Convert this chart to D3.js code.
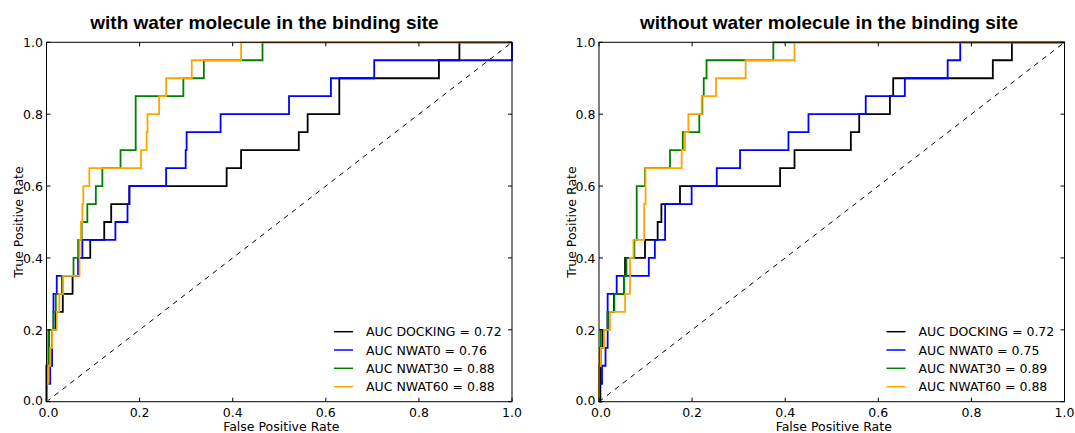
<!DOCTYPE html>
<html><head><meta charset="utf-8">
<script src="https://cdn.jsdelivr.net/npm/d3@7"></script>
<style>body{margin:0;background:#fff;} svg{display:block}</style>
</head><body><svg id="c" width="1075" height="433"></svg>
<script>
// ---------- data ----------
const seriesNames = ["DOCKING", "NWAT0", "NWAT30", "NWAT60"];
const panelTitles = ["with water molecule in the binding site", "without water molecule in the binding site"];
const aucWith = [0.72, 0.76, 0.88, 0.88];
const aucWithout = [0.72, 0.75, 0.89, 0.88];
const tickValues = [0, 0.2, 0.4, 0.6, 0.8, 1.0];
const tickLabels = ["0.0", "0.2", "0.4", "0.6", "0.8", "1.0"];

// with water: ROC threshold points (fpr, tpr)
const withDockingFpr = [0, 0, 0.005, 0.02, 0.035, 0.056, 0.069, 0.094, 0.124, 0.139, 0.178, 0.387, 0.418, 0.542, 0.561, 0.629, 0.843, 0.887, 1];
const withDockingTpr = [0, 0.1, 0.2, 0.25, 0.3, 0.35, 0.4, 0.45, 0.5, 0.55, 0.6, 0.65, 0.7, 0.75, 0.8, 0.9, 0.95, 1.0, 1.0];
const withNwat0Fpr = [0, 0, 0.008, 0.012, 0.015, 0.022, 0.068, 0.077, 0.148, 0.174, 0.178, 0.257, 0.299, 0.301, 0.374, 0.521, 0.611, 0.704, 1];
const withNwat0Tpr = [0, 0.05, 0.1, 0.2, 0.3, 0.35, 0.4, 0.45, 0.5, 0.55, 0.6, 0.65, 0.7, 0.75, 0.8, 0.85, 0.9, 0.95, 1.0];
const withNwat30Fpr = [0, 0, 0.004, 0.015, 0.02, 0.033, 0.058, 0.068, 0.0756, 0.0877, 0.106, 0.12, 0.159, 0.1916, 0.294, 0.338, 0.464, 1];
const withNwat30Tpr = [0, 0.1, 0.2, 0.25, 0.3, 0.35, 0.4, 0.45, 0.5, 0.55, 0.6, 0.65, 0.7, 0.85, 0.9, 0.95, 1.0, 1.0];
const withNwat60Fpr = [0, 0, 0.004, 0.008, 0.012, 0.022, 0.0276, 0.036, 0.071, 0.074, 0.077, 0.079, 0.092, 0.203, 0.215, 0.217, 0.242, 0.257, 0.312, 0.418, 1];
const withNwat60Tpr = [0, 0.05, 0.1, 0.15, 0.2, 0.25, 0.3, 0.35, 0.45, 0.5, 0.55, 0.6, 0.65, 0.7, 0.75, 0.8, 0.85, 0.9, 0.95, 1.0, 1.0];

// without water
const woDockingFpr = [0, 0.003, 0.008, 0.0186, 0.032, 0.054, 0.056, 0.0988, 0.126, 0.134, 0.174, 0.389, 0.42, 0.541, 0.559, 0.625, 0.632, 0.846, 0.887, 1];
const woDockingTpr = [0, 0.15, 0.2, 0.25, 0.3, 0.35, 0.4, 0.45, 0.5, 0.55, 0.6, 0.65, 0.7, 0.75, 0.8, 0.85, 0.9, 0.95, 1.0, 1.0];
const woNwat0Fpr = [0, 0, 0.0065, 0.014, 0.0186, 0.038, 0.107, 0.12, 0.142, 0.199, 0.253, 0.303, 0.407, 0.45, 0.573, 0.657, 0.749, 0.776, 1];
const woNwat0Tpr = [0, 0.05, 0.1, 0.15, 0.3, 0.35, 0.4, 0.45, 0.55, 0.6, 0.65, 0.7, 0.75, 0.8, 0.85, 0.9, 0.95, 1.0, 1.0];
const woNwat30Fpr = [0, 0, 0.004, 0.0186, 0.033, 0.054, 0.059, 0.076, 0.081, 0.099, 0.1525, 0.18, 0.2155, 0.222, 0.225, 0.231, 0.3745, 1];
const woNwat30Tpr = [0, 0.1, 0.2, 0.25, 0.3, 0.35, 0.4, 0.45, 0.6, 0.65, 0.7, 0.75, 0.8, 0.85, 0.9, 0.95, 1.0, 1.0];
const woNwat60Fpr = [0, 0, 0.004, 0.011, 0.0236, 0.056, 0.0666, 0.074, 0.097, 0.1, 0.1776, 0.1847, 0.192, 0.2206, 0.2513, 0.315, 0.42, 1];
const woNwat60Tpr = [0, 0.1, 0.15, 0.2, 0.25, 0.3, 0.4, 0.45, 0.55, 0.65, 0.7, 0.75, 0.8, 0.85, 0.9, 0.95, 1.0, 1.0];

// ---------- layout / style ----------
const colors = ["#000000", "#0000ff", "#008000", "#ffa500"];
const plotTop = 42.3, plotBottom = 401.7, plotW = 465.5;
const panelLeft = [46.5, 599];
const titleX = [264.5, 829];
const font = "'DejaVu Sans', sans-serif";

const panels = [
  { title: panelTitles[0], auc: aucWith, series: [[withDockingFpr, withDockingTpr], [withNwat0Fpr, withNwat0Tpr], [withNwat30Fpr, withNwat30Tpr], [withNwat60Fpr, withNwat60Tpr]] },
  { title: panelTitles[1], auc: aucWithout, series: [[woDockingFpr, woDockingTpr], [woNwat0Fpr, woNwat0Tpr], [woNwat30Fpr, woNwat30Tpr], [woNwat60Fpr, woNwat60Tpr]] }
];

const svg = d3.select("#c");

panels.forEach((p, pi) => {
  const x0 = panelLeft[pi];
  const x = d3.scaleLinear().domain([0, 1]).range([x0, x0 + plotW]);
  const y = d3.scaleLinear().domain([0, 1]).range([plotBottom, plotTop]);
  const g = svg.append("g");

  // diagonal
  g.append("line")
    .attr("x1", x(0)).attr("y1", y(0)).attr("x2", x(1)).attr("y2", y(1))
    .attr("stroke", "#000").attr("stroke-width", 1).attr("stroke-dasharray", "5,5");

  // curves
  const line = d3.line().x(d => x(d[0])).y(d => y(d[1])).curve(d3.curveStepAfter);
  p.series.forEach((s, si) => {
    const pts = s[0].map((f, i) => [f, s[1][i]]);
    g.append("path").attr("d", line(pts)).attr("fill", "none")
      .attr("stroke", colors[si]).attr("stroke-width", 1.8).attr("stroke-linejoin", "miter");
  });

  // frame
  g.append("rect").attr("x", x(0)).attr("y", y(1)).attr("width", x(1) - x(0)).attr("height", y(0) - y(1))
    .attr("fill", "none").attr("stroke", "#000").attr("stroke-width", 1);

  // inward ticks on all four sides
  const tl = 4;
  tickValues.forEach(v => {
    g.append("line").attr("x1", x(v)).attr("x2", x(v)).attr("y1", y(0)).attr("y2", y(0) - tl).attr("stroke", "#000");
    g.append("line").attr("x1", x(v)).attr("x2", x(v)).attr("y1", y(1)).attr("y2", y(1) + tl).attr("stroke", "#000");
    g.append("line").attr("y1", y(v)).attr("y2", y(v)).attr("x1", x(0)).attr("x2", x(0) + tl).attr("stroke", "#000");
    g.append("line").attr("y1", y(v)).attr("y2", y(v)).attr("x1", x(1)).attr("x2", x(1) - tl).attr("stroke", "#000");
  });

  // tick labels
  tickValues.forEach((v, i) => {
    g.append("text").attr("x", x(v) + (i === 0 ? 2 : 0)).attr("y", 417).attr("text-anchor", "middle")
      .attr("font-family", font).attr("font-size", 12.5).text(tickLabels[i]);
    g.append("text").attr("x", x(0) - 3.5).attr("y", y(v) + (i === 0 ? 3.5 : 5)).attr("text-anchor", "end")
      .attr("font-family", font).attr("font-size", 12.5).text(tickLabels[i]);
  });

  // axis labels
  g.append("text").attr("x", x(0.5) + 2).attr("y", 431).attr("text-anchor", "middle")
    .attr("font-family", font).attr("font-size", 12.5).text("False Positive Rate");
  g.append("text").attr("transform", `translate(${x0 - 23.5},${(plotTop + plotBottom) / 2}) rotate(-90)`)
    .attr("text-anchor", "middle").attr("font-family", font).attr("font-size", 12.5).text("True Positive Rate");

  // title
  g.append("text").attr("x", titleX[pi]).attr("y", 29).attr("text-anchor", "middle")
    .attr("font-family", "'Liberation Sans', Arial, sans-serif").attr("font-weight", "bold")
    .attr("font-size", 19).text(p.title);

  // legend
  const lx = x0 + 287.5;
  const rows = [331.7, 350, 368.3, 386.7];
  seriesNames.forEach((n, i) => {
    g.append("line").attr("x1", lx).attr("x2", lx + 19).attr("y1", rows[i]).attr("y2", rows[i])
      .attr("stroke", colors[i]).attr("stroke-width", 1.5);
    g.append("text").attr("x", lx + 32).attr("y", rows[i] + 4.5)
      .attr("font-family", font).attr("font-size", 12.5)
      .text(`AUC ${n} = ${p.auc[i].toFixed(2)}`);
  });
});
</script>
</body></html>
